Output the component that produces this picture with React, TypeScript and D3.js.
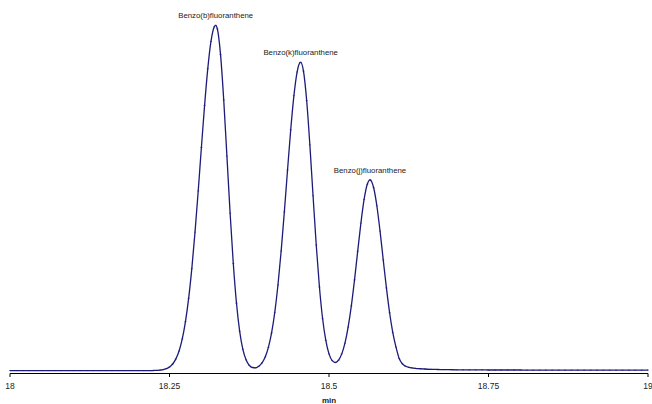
import { useEffect } from "react";
import * as d3 from "d3";

const baseTimesBefore = [
  18.0, 18.01, 18.02, 18.03, 18.04, 18.05, 18.06, 18.07, 18.08, 18.09, 18.1,
  18.11, 18.12, 18.13, 18.14, 18.15, 18.16, 18.17, 18.18, 18.19, 18.2, 18.21,
];
const baseValuesBefore = [
  0, 0, 0, 0, 0, 0, 0, 0, 0, 0, 0, 0, 0, 0, 0, 0, 0, 0, 0, 0, 0, 0,
];

const peakTimes = [
  18.22, 18.225, 18.23, 18.235, 18.24, 18.245, 18.25, 18.255, 18.26, 18.265,
  18.27, 18.275, 18.28, 18.285, 18.29, 18.295, 18.3, 18.305, 18.31, 18.315,
  18.32, 18.3224, 18.325, 18.33, 18.335, 18.34, 18.345, 18.35, 18.355, 18.36,
  18.365, 18.37, 18.375, 18.38, 18.385, 18.39, 18.395, 18.4, 18.405, 18.41,
  18.415, 18.42, 18.425, 18.43, 18.435, 18.44, 18.445, 18.45, 18.455, 18.4556,
  18.46, 18.465, 18.47, 18.475, 18.48, 18.485, 18.49, 18.495, 18.5, 18.505,
  18.51, 18.515, 18.52, 18.525, 18.53, 18.535, 18.54, 18.545, 18.55, 18.555,
  18.56, 18.5643, 18.565, 18.57, 18.575, 18.58, 18.585, 18.59, 18.595, 18.6,
  18.605, 18.61, 18.615, 18.62, 18.625, 18.63, 18.635, 18.64, 18.645, 18.65,
];
const peakValues = [
  0, 0.1, 0.2, 0.5, 0.9, 1.9, 3.6, 6.6, 11.7, 19.6,
  31.6, 48.9, 72.2, 102.1, 138.3, 179.5, 222.9, 265.0, 301.7, 328.9,
  343.3, 345.0, 341.5, 315.7, 270.4, 214.3, 157.3, 107.0, 67.3, 39.2,
  21.2, 10.8, 5.3, 3.1, 2.8, 4.3, 7.6, 13.5, 23.2, 37.6,
  58.2, 85.5, 119.4, 158.6, 200.4, 240.6, 274.7, 298.3, 307.9, 308.0,
  299.3, 269.8, 225.5, 174.7, 125.5, 83.6, 51.8, 30.1, 16.7, 10.0,
  8.1, 10.4, 16.7, 27.4, 43.4, 64.6, 90.6, 119.3, 147.4, 171.0,
  186.2, 190.5, 190.4, 182.7, 164.7, 139.4, 110.7, 82.6, 57.8, 38.0,
  23.5, 12.0, 6.8, 4.4, 3.3, 2.7, 2.3, 2.0, 1.8, 1.6,
];

const baseTimesAfter = [
  18.66, 18.67, 18.68, 18.69, 18.7, 18.71, 18.72, 18.73, 18.74, 18.75, 18.76,
  18.77, 18.78, 18.79, 18.8, 18.81, 18.82, 18.83, 18.84, 18.85, 18.86, 18.87,
  18.88, 18.89, 18.9, 18.91, 18.92, 18.93, 18.94, 18.95, 18.96, 18.97, 18.98,
  18.99, 19.0,
];
const baseValuesAfter = [
  1.3, 1.1, 1.0, 0.9, 0.8, 0.8, 0.7, 0.7, 0.7, 0.6, 0.6,
  0.6, 0.6, 0.6, 0.6, 0.5, 0.5, 0.5, 0.5, 0.5, 0.5, 0.5,
  0.5, 0.5, 0.5, 0.5, 0.5, 0.4, 0.4, 0.4, 0.4, 0.4, 0.4,
  0.4, 0.4,
];

const peakNames = [
  "Benzo(b)fluoranthene",
  "Benzo(k)fluoranthene",
  "Benzo(j)fluoranthene",
];
const peakApexTimes = [18.3224, 18.4556, 18.5643];
const peakApexValues = [345.0, 308.0, 190.5];

const xTicks = [18, 18.25, 18.5, 18.75, 19];

type Punto = { t: number; v: number };

export default function App() {
  const width = 652;
  const height = 404;

  useEffect(() => {
    document.body.style.margin = "0";
  }, []);

  const times = [...baseTimesBefore, ...peakTimes, ...baseTimesAfter];
  const values = [...baseValuesBefore, ...peakValues, ...baseValuesAfter];
  const data: Punto[] = times.map((t, i) => ({ t, v: values[i] }));

  const x = d3.scaleLinear().domain([18, 19]).range([10, 648]);
  const y = d3.scaleLinear().domain([0, 345]).range([370.6, 25.3]);
  const axisY = 373.5;

  const path = d3
    .line<Punto>()
    .x((d) => x(d.t))
    .y((d) => y(d.v))
    .curve(d3.curveMonotoneX)(data);

  return (
    <svg
      width={width}
      height={height}
      style={{ display: "block", background: "#fff" }}
      fontFamily="'Liberation Sans', Arial, sans-serif"
    >
      {/* eje X */}
      <line x1={x(18)} x2={x(19)} y1={axisY} y2={axisY} stroke="#000" strokeWidth={1} />
      {xTicks.map((t) => (
        <g key={t}>
          <line x1={x(t)} x2={x(t)} y1={axisY} y2={axisY + 3.5} stroke="#000" strokeWidth={1} />
          <text x={x(t)} y={389} textAnchor="middle" fontSize={8.5} fill="#222">
            {t}
          </text>
        </g>
      ))}
      <text x={x(18.5)} y={403} textAnchor="middle" fontSize={8} fontWeight="bold" fill="#222">
        min
      </text>

      {/* señal */}
      <path d={path || ""} fill="none" stroke="#1c1c78" strokeWidth={1.3} />
      {data.map((d, i) => (
        <line
          key={i}
          x1={x(d.t) - 1}
          x2={x(d.t) + 1}
          y1={y(d.v)}
          y2={y(d.v)}
          stroke="#1c1c78"
          strokeWidth={1}
          opacity={0.6}
        />
      ))}

      {/* nombres de picos */}
      {peakNames.map((name, i) => (
        <text
          key={name}
          x={x(peakApexTimes[i])}
          y={y(peakApexValues[i]) - 7}
          textAnchor="middle"
          fontSize={7.8}
          fill="#222"
        >
          {name}
        </text>
      ))}
    </svg>
  );
}
